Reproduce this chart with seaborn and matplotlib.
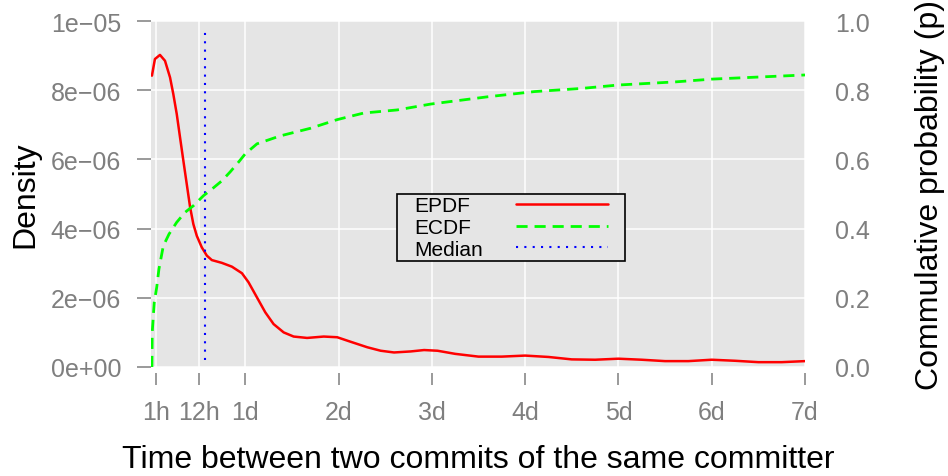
import matplotlib
matplotlib.use("Agg")
import matplotlib.pyplot as plt
from matplotlib.path import Path
import seaborn as sns

# all x values are in days
tick_days = [1 / 24, 0.5, 1, 2, 3, 4, 5, 6, 7]
tick_labels = ["1h", "12h", "1d", "2d", "3d", "4d", "5d", "6d", "7d"]

density_ticks = [0, 2e-6, 4e-6, 6e-6, 8e-6, 1e-5]
density_labels = ["0e+00", "2e\u221206", "4e\u221206", "6e\u221206", "8e\u221206", "1e\u221205"]
prob_ticks = [0.0, 0.2, 0.4, 0.6, 0.8, 1.0]
prob_labels = ["0.0", "0.2", "0.4", "0.6", "0.8", "1.0"]

# empirical density (units of 1e-6)
epdf_days = [0.0, 0.032, 0.086, 0.140, 0.194, 0.229, 0.266, 0.301, 0.337, 0.373,
             0.409, 0.444, 0.481, 0.534, 0.588, 0.642, 0.749, 0.857, 0.965, 1.035,
             1.126, 1.215, 1.304, 1.412, 1.519, 1.663, 1.842, 1.986, 2.129, 2.309,
             2.452, 2.595, 2.774, 2.917, 3.061, 3.25, 3.5, 3.75, 4.0, 4.25,
             4.5, 4.75, 5.0, 5.25, 5.5, 5.75, 6.0, 6.25, 6.5, 6.75, 7.0]
epdf_vals = [8.42, 8.90, 9.02, 8.85, 8.37, 7.89, 7.31, 6.64, 5.96, 5.29,
             4.62, 4.13, 3.79, 3.46, 3.22, 3.09, 3.01, 2.90, 2.71, 2.45,
             2.01, 1.58, 1.24, 1.00, 0.88, 0.84, 0.88, 0.86, 0.73, 0.57,
             0.47, 0.42, 0.45, 0.49, 0.47, 0.38, 0.30, 0.30, 0.33, 0.29,
             0.22, 0.21, 0.24, 0.21, 0.17, 0.17, 0.21, 0.18, 0.14, 0.14, 0.17]

# empirical cumulative distribution
ecdf_days = [0.0, 0.003, 0.025, 0.051, 0.075, 0.122, 0.183, 0.265, 0.355, 0.444,
             0.552, 0.642, 0.749, 0.839, 0.928, 1.0, 1.126, 1.376, 1.70, 1.986,
             2.27, 2.63, 2.99, 3.60, 4.10, 4.60, 5.0, 5.61, 6.0, 7.0]
ecdf_vals = [0.0, 0.10, 0.187, 0.23, 0.283, 0.35, 0.384, 0.418, 0.447, 0.466,
             0.495, 0.514, 0.538, 0.564, 0.592, 0.616, 0.645, 0.668, 0.69, 0.715,
             0.734, 0.743, 0.760, 0.781, 0.796, 0.805, 0.815, 0.824, 0.832, 0.844]

median_days = 0.57

panel = "#E5E5E5"
grey = "#7F7F7F"

sns.set_style("darkgrid", rc={"axes.facecolor": panel, "grid.color": "white",
                              "grid.linewidth": 1.1})
plt.rcParams["font.family"] = ["Liberation Sans", "DejaVu Sans"]
plt.rcParams["text.color"] = "black"
plt.rcParams["axes.labelcolor"] = "black"

fig = plt.figure(figsize=(9.48, 4.77), dpi=100)
ax = fig.add_axes([151 / 948, 109 / 477, 654 / 948, 346 / 477])
ax2 = ax.twinx()

sns.lineplot(x=epdf_days, y=[v * 1e-6 for v in epdf_vals], ax=ax, color="#FF0000",
             linewidth=1.8, label="EPDF", legend=False)
ax.axvline(median_days, ymin=0.02, ymax=0.98, color="#0000FF", linewidth=1.5,
           linestyle=(0, (1, 3)), label="Median")
sns.lineplot(x=ecdf_days, y=ecdf_vals, ax=ax2, color="#00FF00", linewidth=2,
             label="ECDF", legend=False)
ax2.lines[0].set_dashes((4, 2.5))

ax.set_xlim(-0.01, 7)
ax.set_ylim(0, 1e-5)
ax2.set_ylim(0, 1)
ax.set_xticks(tick_days, tick_labels)
ax.set_yticks(density_ticks, density_labels)
ax2.set_yticks(prob_ticks, prob_labels)
ax.grid(True, color="white", linewidth=1.1)
ax2.grid(False)
ax.set_axisbelow(True)

for a in (ax, ax2):
    for s in a.spines.values():
        s.set_visible(False)
ax.spines["bottom"].set_position(("outward", 4))

ax.tick_params(axis="x", bottom=True, colors=grey, labelsize=18, length=8.6,
               width=1.1, pad=11.5)
ax.tick_params(axis="y", left=True, colors=grey, labelsize=18, length=10,
               width=1.1, pad=11.5)
ax2.tick_params(axis="y", right=True, colors=grey, labelsize=18, length=0, pad=21.6)

ax.set_xlabel("Time between two commits of the same committer", fontsize=23)
ax.xaxis.set_label_coords(0.5, -0.266)
ax.xaxis.label.set_va("center")
ax.set_ylabel("Density", fontsize=23)
ax.yaxis.set_label_coords(-0.1927, 0.5)
ax.yaxis.label.set_va("center")
ax2.set_ylabel("Commulative probability (p)", fontsize=23)
ax2.yaxis.set_label_coords(1.191, 0.5)
ax2.yaxis.label.set_va("center")


def wide_box(x0, y0, width, height, mutation_size):
    # plain rectangle with extra room left and right of the entries
    dx = 0.72 * mutation_size
    return Path([(x0 - dx, y0), (x0 + width + dx, y0), (x0 + width + dx, y0 + height),
                 (x0 - dx, y0 + height), (x0 - dx, y0)], closed=True)


handles = [ax.lines[0], ax2.lines[0], ax.lines[1]]
leg = ax2.legend(handles, ["EPDF", "ECDF", "Median"], loc="upper left",
                 bbox_to_anchor=(0.399, 0.5), borderaxespad=0, markerfirst=False,
                 fontsize=15, handlelength=4.4, handletextpad=1.6, labelspacing=0.125,
                 borderpad=0.11, framealpha=1, facecolor=panel, edgecolor="black")
leg.get_frame().set_boxstyle(wide_box)
leg.get_frame().set_linewidth(1.2)

# left-align the legend labels: pad the gap before each handle so they line up
fig.canvas.draw()
renderer = fig.canvas.get_renderer()
widths = [t.get_window_extent(renderer).width for t in leg.get_texts()]
column = leg._legend_handle_box.get_children()[0]
column.align = "left"
for item, w in zip(column.get_children(), widths):
    item.sep += (max(widths) - w) * 72 / fig.dpi

fig.savefig("out.png", dpi=100)
